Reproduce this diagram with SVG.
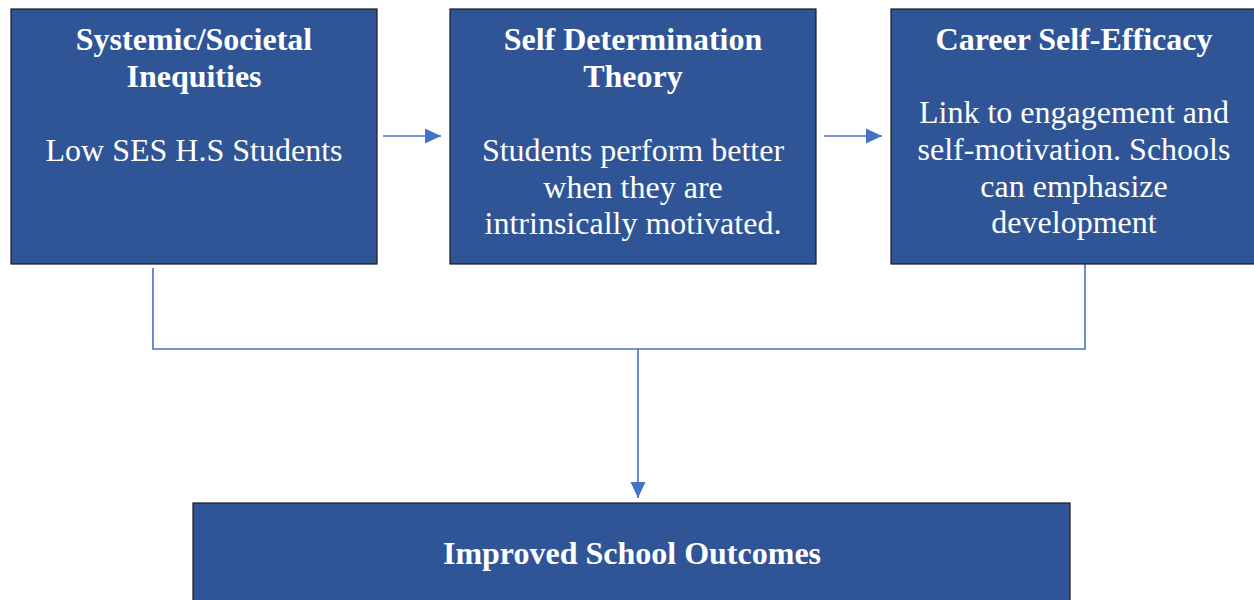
<svg xmlns="http://www.w3.org/2000/svg" width="1254" height="600" viewBox="0 0 1254 600">
  <style>
    .box { fill: #2F5597; stroke: #1c1c1c; stroke-width: 1.2; }
    .title { font-family: "Liberation Serif", "Times New Roman", serif; font-weight: bold; font-size: 32px; fill: #ffffff; text-anchor: middle; }
    .body { font-family: "Liberation Serif", "Times New Roman", serif; font-size: 32px; fill: #ffffff; text-anchor: middle; }
    .link { fill: none; stroke: #4472C4; stroke-width: 1.6; }
  </style>
  <defs>
    <marker id="arrow" markerUnits="userSpaceOnUse" markerWidth="16" markerHeight="16" refX="16" refY="8" orient="auto">
      <path d="M0,0.5 L16,8 L0,15.5 Z" fill="#4472C4"/>
    </marker>
  </defs>
  <rect width="1254" height="600" fill="#ffffff"/>

  <g id="connectors">
    <line class="link" x1="383" y1="136" x2="441" y2="136" marker-end="url(#arrow)"/>
    <line class="link" x1="824" y1="136" x2="882" y2="136" marker-end="url(#arrow)"/>
    <polyline class="link" points="153,268 153,349 1085,349 1085,264"/>
    <line class="link" x1="638" y1="349" x2="638" y2="498" marker-end="url(#arrow)"/>
  </g>

  <g id="node-inequities">
    <rect class="box" x="11" y="9" width="366" height="255"/>
    <text class="title" x="194" y="49.5">Systemic/Societal</text>
    <text class="title" x="194" y="86.5">Inequities</text>
    <text class="body" x="194" y="160.5">Low SES H.S Students</text>
  </g>

  <g id="node-self-determination">
    <rect class="box" x="450" y="9" width="366" height="255"/>
    <text class="title" x="633" y="49.5">Self Determination</text>
    <text class="title" x="633" y="86.5">Theory</text>
    <text class="body" x="633" y="160.5">Students perform better</text>
    <text class="body" x="633" y="197.5">when they are</text>
    <text class="body" x="633" y="234">intrinsically motivated.</text>
  </g>

  <g id="node-career-self-efficacy">
    <rect class="box" x="891" y="9" width="366" height="255"/>
    <text class="title" x="1074" y="49.5">Career Self-Efficacy</text>
    <text class="body" x="1074" y="123">Link to engagement and</text>
    <text class="body" x="1074" y="160">self-motivation. Schools</text>
    <text class="body" x="1074" y="196.5">can emphasize</text>
    <text class="body" x="1074" y="233">development</text>
  </g>

  <g id="node-outcomes">
    <rect class="box" x="193" y="503" width="877" height="110"/>
    <text class="title" x="632" y="564">Improved School Outcomes</text>
  </g>
</svg>
